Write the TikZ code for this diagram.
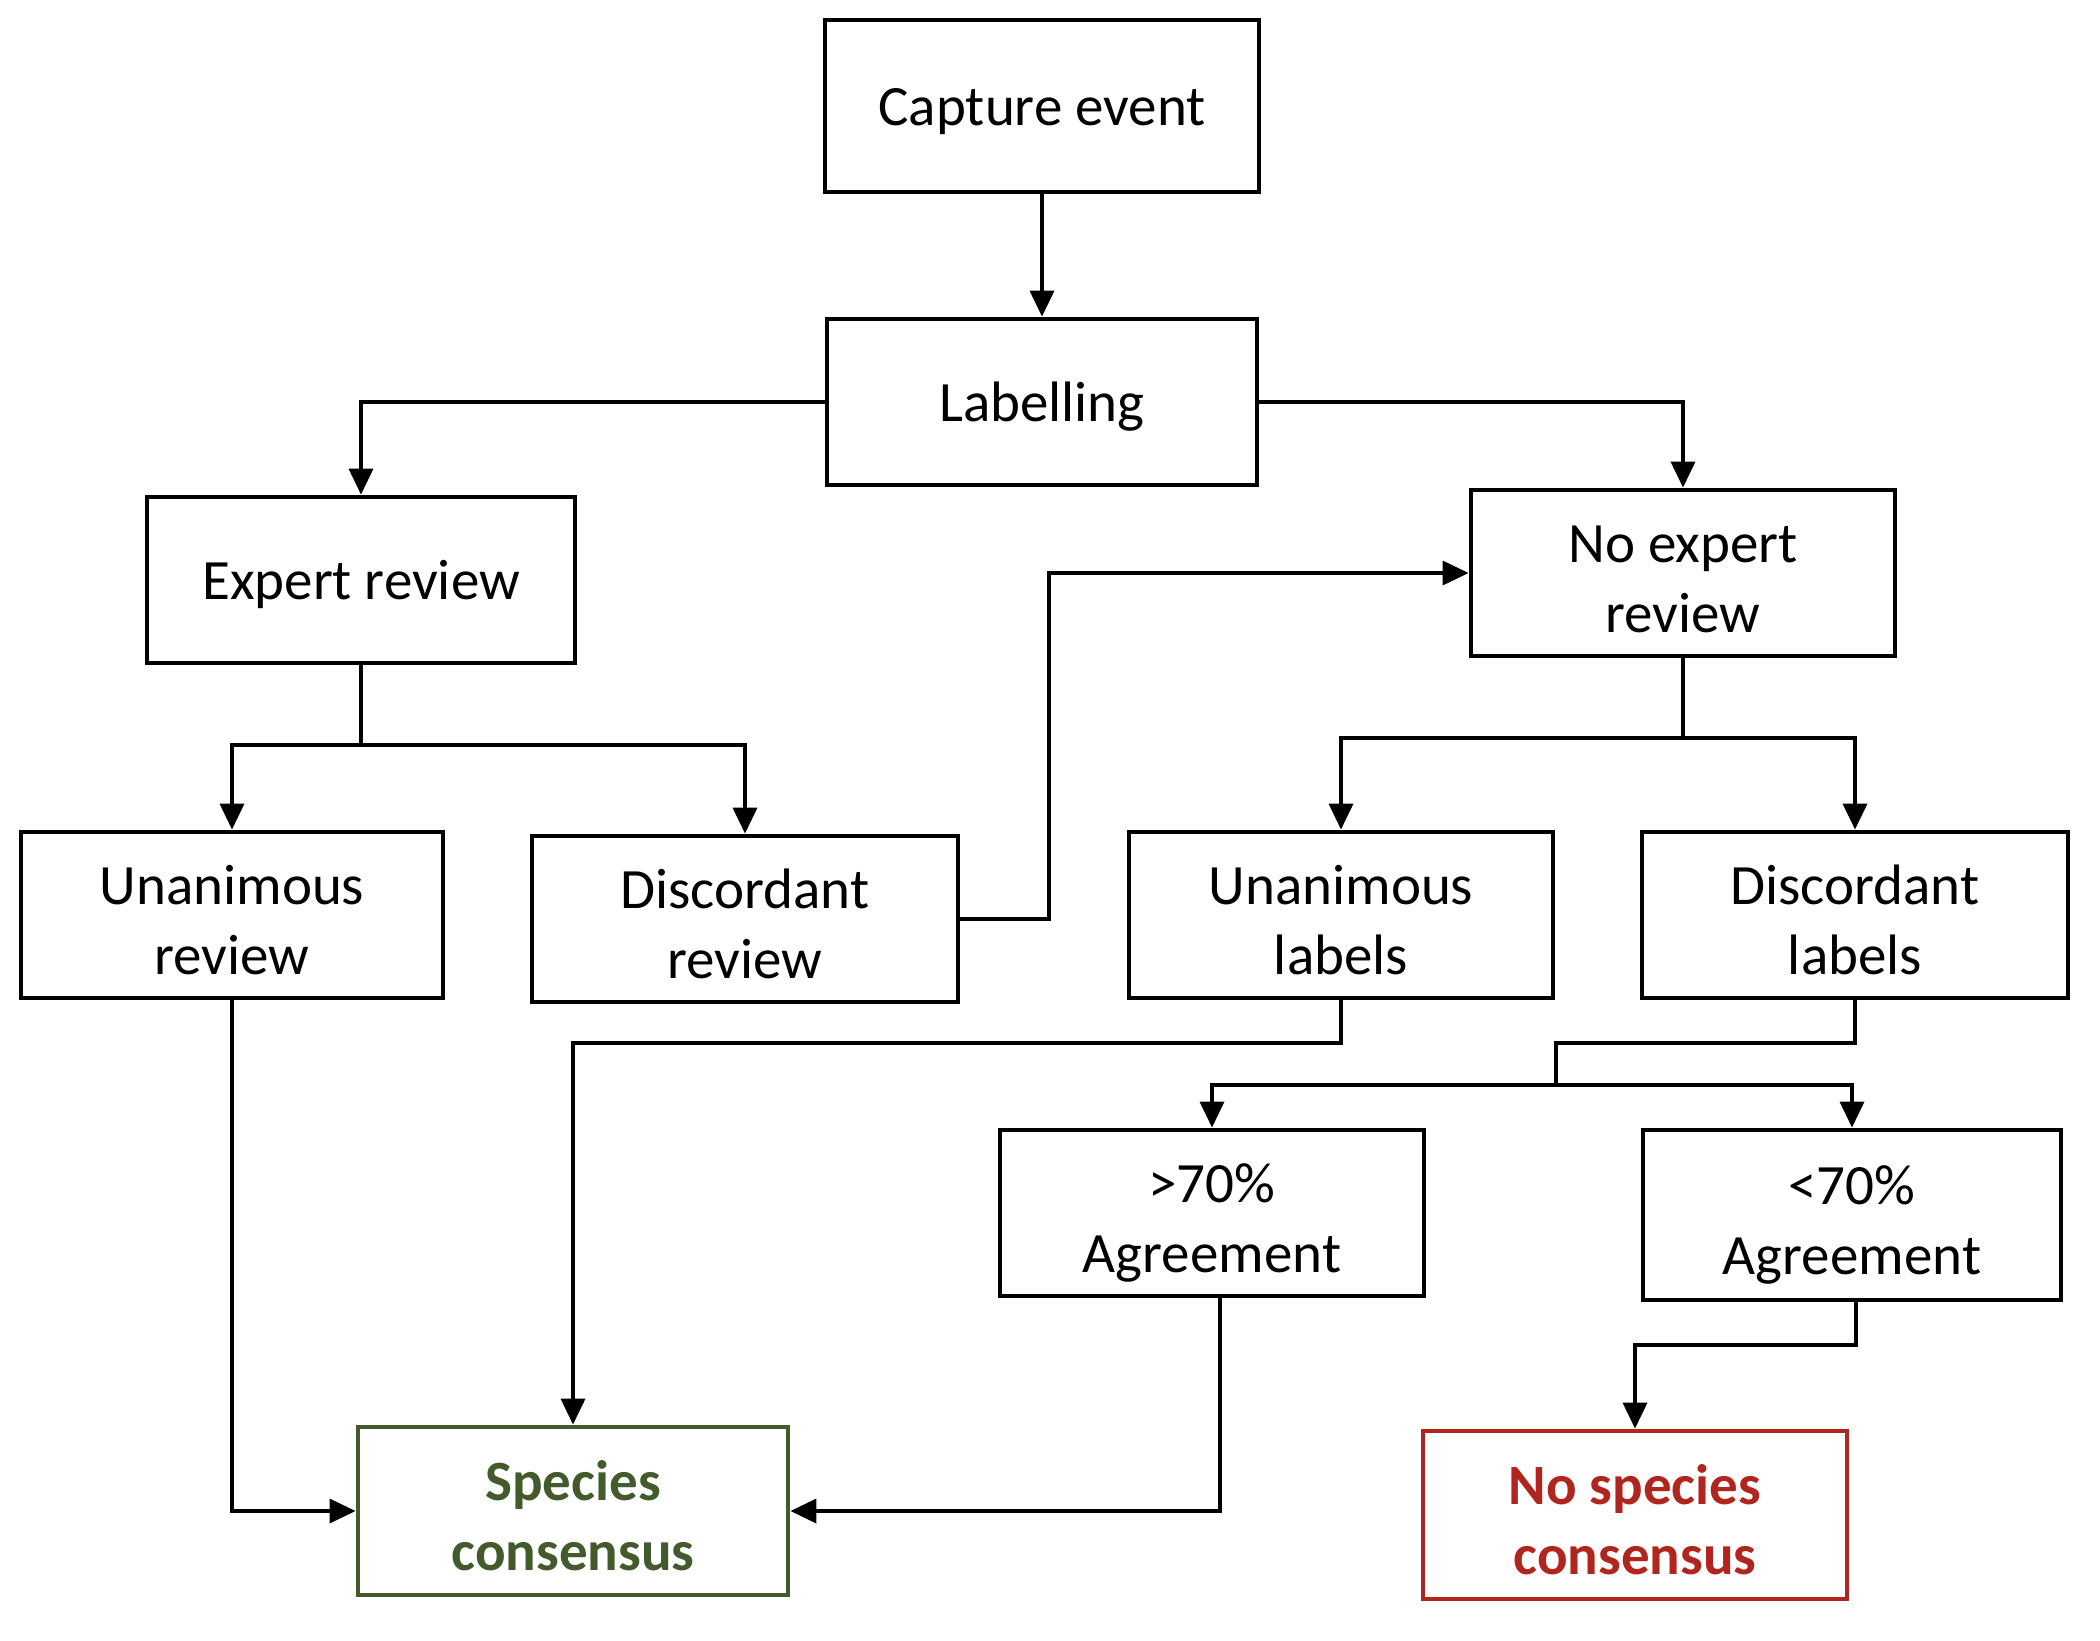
\documentclass[tikz,border=0pt]{standalone}
\usepackage{fontspec}
\setmainfont{Carlito}
\usetikzlibrary{arrows.meta,calc}
\definecolor{scgreen}{HTML}{425A2C}
\definecolor{nscred}{HTML}{B0261E}
\newcommand{\tx}[2][-2.5pt]{\raisebox{#1}[\height][\depth]{\begin{tabular}{@{}c@{}}#2\end{tabular}}}
\newcommand{\ttx}[1]{\tx[-5pt]{#1}}
\begin{document}
\begin{tikzpicture}[x=0.5pt,y=-0.5pt,
  box/.style={draw,line width=2.4pt,minimum width=212pt,minimum height=83pt,inner sep=0pt,font=\fontsize{28.5}{35}\selectfont},
  conn/.style={line width=1.8pt},
  arr/.style={conn,-{Triangle[length=13pt,width=12pt]}}]
\useasboundingbox[fill=white] (0,0) rectangle (2100,1640);
\node[box,minimum width=217pt,minimum height=86pt] (cap) at (1042,106) {\tx{Capture event}};
\node[box,minimum width=215pt] (lab) at (1042,402) {\tx{Labelling}};
\node[box,minimum width=214pt] (exp) at (361,580) {\tx{Expert review}};
\node[box] (noexp) at (1683,573) {\ttx{No expert\\review}};
\node[box,minimum width=211pt] (unrev) at (232,915) {\ttx{Unanimous\\review}};
\node[box,minimum width=213pt] (disrev) at (745,919) {\ttx{Discordant\\review}};
\node[box] (unlab) at (1341,915) {\ttx{Unanimous\\labels}};
\node[box,minimum width=213pt] (dislab) at (1855,915) {\ttx{Discordant\\labels}};
\node[box] (gt) at (1212,1213) {\ttx{>70\%\\Agreement}};
\node[box,minimum width=209pt,minimum height=85pt] (lt) at (1852,1215) {\ttx{<70\%\\Agreement}};
\node[box,draw=scgreen,text=scgreen,font=\fontsize{28.5}{35}\selectfont\bfseries,minimum width=215pt,minimum height=84pt] (sc) at (573,1511) {\ttx{Species\\consensus}};
\node[box,draw=nscred,text=nscred,font=\fontsize{28.5}{35}\selectfont\bfseries,minimum height=84pt] (nsc) at (1635,1515) {\ttx{No species\\consensus}};
\coordinate (j1) at (361,745);
\coordinate (j2) at (1683,738);
\coordinate (j3) at (1556,1085);
\draw[arr] (cap.south) -- (lab.north);
\draw[arr] (lab.west) -| (exp.north);
\draw[arr] (lab.east) -| (noexp.north);
\draw[conn] (exp.south) -- (j1);
\draw[arr] (j1) -| (unrev.north);
\draw[arr] (j1) -| (disrev.north);
\draw[arr] (disrev.east) -- (1049,919) |- (noexp.west);
\draw[conn] (noexp.south) -- (j2);
\draw[arr] (j2) -| (unlab.north);
\draw[arr] (j2) -| (dislab.north);
\draw[arr] (unlab.south) -- (1341,1043) -| (sc.north);
\draw[conn] (dislab.south) -- (1855,1043) -| (j3);
\draw[arr] (j3) -| (gt.north);
\draw[arr] (j3) -| (lt.north);
\draw[arr] (unrev.south) |- (sc.west);
\draw[arr] ($(gt.south)+(8,0)$) |- (sc.east);
\draw[arr] ($(lt.south)+(4,0)$) -- (1856,1345) -| (nsc.north);
\end{tikzpicture}
\end{document}
